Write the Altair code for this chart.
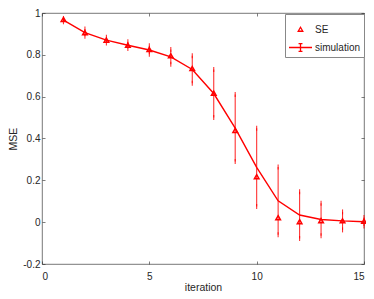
import altair as alt
import pandas as pd

iteration = list(range(1, 16))
sim_mean = [0.966, 0.906, 0.870, 0.846, 0.823, 0.790, 0.730, 0.615, 0.450,
            0.262, 0.102, 0.034, 0.013, 0.006, 0.002]
sim_err = [0.008, 0.017, 0.014, 0.016, 0.020, 0.035, 0.066, 0.115, 0.160,
           0.187, 0.162, 0.112, 0.078, 0.043, 0.020]
se_vals = [0.968, 0.904, 0.869, 0.844, 0.824, 0.794, 0.733, 0.615, 0.437,
           0.216, 0.020, 0.001, 0.006, 0.005, 0.003]
series_names = ["SE", "simulation"]
x_ticks = [0, 5, 10, 15]
y_ticks = [-0.2, 0, 0.2, 0.4, 0.6, 0.8, 1]

sim = pd.DataFrame({
    "iteration": iteration,
    "mean": sim_mean,
    "lo": [m - e for m, e in zip(sim_mean, sim_err)],
    "hi": [m + e for m, e in zip(sim_mean, sim_err)],
})
se = pd.DataFrame({"iteration": iteration, "mse": se_vals, "series": "SE"})

RED = "#ff0000"
AX = "#262626"
FONT = "Liberation Sans"

xs = alt.Scale(domain=[0, 15], nice=False, zero=False)
ys = alt.Scale(domain=[-0.2, 1], nice=False, zero=False)

def tick_axis(orient, values):
    return alt.Axis(orient=orient, values=values, labels=False, domain=False,
                    grid=False, ticks=True, tickSize=3, tickColor=AX,
                    tickWidth=0.6, offset=-3, title=None)

x_main = alt.Axis(orient="bottom", values=x_ticks, ticks=False, domain=False,
                  grid=False, labelFont=FONT, labelFontSize=10, labelColor=AX,
                  labelPadding=7, labelExpr="datum.value + ''",
                  title="iteration", titleFont=FONT,
                  titleFontSize=10.5, titleFontWeight="normal", titleColor=AX,
                  titlePadding=1)
y_main = alt.Axis(orient="left", values=y_ticks, ticks=False, domain=False,
                  grid=False, labelFont=FONT, labelFontSize=10, labelColor=AX,
                  labelPadding=2, labelExpr="datum.value + ''",
                  title="MSE", titleFont=FONT,
                  titleFontSize=10.5, titleFontWeight="normal", titleColor=AX,
                  titlePadding=4)

line = alt.Chart(sim).mark_line(color=RED, strokeWidth=1.4).encode(
    x=alt.X("iteration:Q", scale=xs, axis=x_main),
    y=alt.Y("mean:Q", scale=ys, axis=y_main),
)

bars = alt.Chart(sim).mark_rule(color=RED, strokeWidth=1.1, opacity=0.8).encode(
    x=alt.X("iteration:Q", scale=xs, axis=tick_axis("bottom", x_ticks)),
    y=alt.Y("lo:Q", scale=ys, axis=tick_axis("left", y_ticks)),
    y2="hi:Q",
)

caps_lo = alt.Chart(sim).mark_tick(color=RED, size=5, thickness=1.1, opacity=0.8).encode(
    x=alt.X("iteration:Q", scale=xs, axis=tick_axis("top", x_ticks)),
    y=alt.Y("lo:Q", scale=ys, axis=tick_axis("right", y_ticks)),
)
caps_hi = alt.Chart(sim).mark_tick(color=RED, size=5, thickness=1.1, opacity=0.8).encode(
    x=alt.X("iteration:Q", scale=xs, axis=None),
    y=alt.Y("hi:Q", scale=ys, axis=None),
)

tri_path = "M0,-0.2L0.2,0.15L-0.2,0.15Z"
eb_path = "M-1,0H1M0,-0.33V0.33M-0.17,-0.33H0.17M-0.17,0.33H0.17"

points = alt.Chart(se).mark_point(filled=False, strokeWidth=1.5, size=529,
                                  color=RED, opacity=1).encode(
    x=alt.X("iteration:Q", scale=xs, axis=None),
    y=alt.Y("mse:Q", scale=ys, axis=None),
    shape=alt.Shape("series:N",
                    scale=alt.Scale(domain=series_names, range=[tri_path, eb_path]),
                    legend=alt.Legend(title=None, orient="none", legendX=243,
                                      legendY=1, labelFont=FONT, labelFontSize=10,
                                      labelColor=AX, symbolSize=529,
                                      symbolStrokeColor=RED, symbolStrokeWidth=1.3,
                                      symbolFillColor="transparent",
                                      fillColor="white", strokeColor="#888888",
                                      padding=3, labelOffset=2, rowPadding=0)),
)

chart = alt.layer(line, bars, caps_lo, caps_hi, points).resolve_axis(
    x="independent", y="independent"
).properties(
    width=322, height=251,
    padding={"left": 34, "top": 5, "right": 2, "bottom": 27},
    autosize=alt.AutoSizeParams(type="none"),
    background="white",
).configure_view(stroke="#555555", strokeWidth=0.8)

chart.save("out.html", embed_options={"renderer": "svg", "actions": False})
